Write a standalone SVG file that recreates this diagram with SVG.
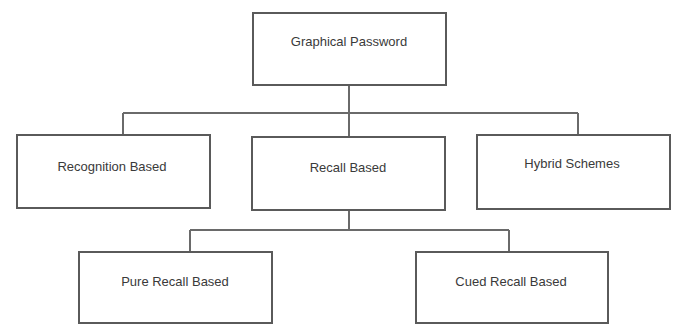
<svg xmlns="http://www.w3.org/2000/svg" width="675" height="325" viewBox="0 0 675 325">
<style>
.box{fill:#fff;stroke:#5a5a5a;stroke-width:2}
.lbl{font-family:"Liberation Sans",Arial,sans-serif;font-size:13px;fill:#3a3a3a;text-anchor:middle;dominant-baseline:central}
.con{fill:none;stroke:#6a6a6a;stroke-width:2}
</style>
<rect width="675" height="325" fill="#fff"/>
<g id="connectors">
<path class="con" d="M349 85V113M123 113H578M123 113V135M578 113V135M349 113V137"/>
<path class="con" d="M349 210V230M190 230H509M190 230V252M509 230V252"/>
</g>
<g id="graphical"><rect class="box" x="253" y="13" width="193" height="72"/><text class="lbl" x="349" y="41">Graphical Password</text></g>
<g id="recognition"><rect class="box" x="17" y="135" width="193" height="73"/><text class="lbl" x="112" y="166">Recognition Based</text></g>
<g id="recall"><rect class="box" x="252" y="137" width="193" height="73"/><text class="lbl" x="348" y="167">Recall Based</text></g>
<g id="hybrid"><rect class="box" x="477" y="135" width="193" height="74"/><text class="lbl" x="572" y="163">Hybrid Schemes</text></g>
<g id="pure"><rect class="box" x="79" y="252" width="193" height="71"/><text class="lbl" x="175" y="281">Pure Recall Based</text></g>
<g id="cued"><rect class="box" x="416" y="252" width="192" height="71"/><text class="lbl" x="511" y="281">Cued Recall Based</text></g>
</svg>
